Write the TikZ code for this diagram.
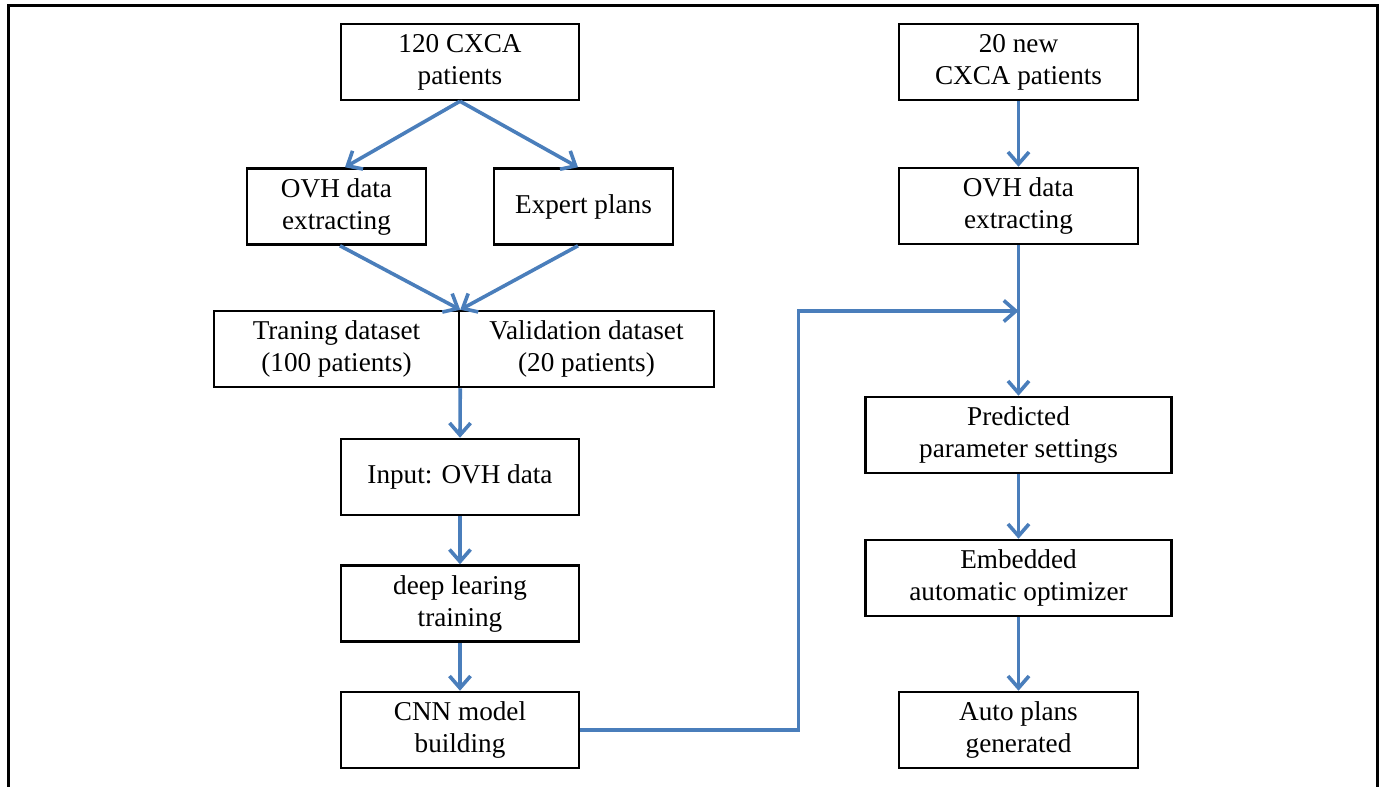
\documentclass[tikz,border=0pt]{standalone}
\usepackage{fontspec}
\setmainfont{Liberation Serif}
\usetikzlibrary{arrows.meta,calc}
\definecolor{arrblue}{HTML}{4A7EBB}
\begin{document}
\begin{tikzpicture}[x=0.5pt,y=-0.5pt,
  box/.style={draw=black,line width=1.25pt,align=center,inner sep=0pt,
    font=\fontsize{13.6pt}{16pt}\selectfont,minimum height=38pt},
  arr/.style={draw=arrblue,line width=1.8pt,-{Straight Barb[length=6pt,width=10.5pt,line width=1.8pt]}}]
\useasboundingbox (0,0) rectangle (1383,787);
\draw[line width=1.5pt] (8,787) -- (8,5) -- (1377,5) -- (1377,787);
% left column
\node[box,minimum width=119pt] (b1) at (460,62) {120 CXCA\\patients};
\node[box,minimum width=89.5pt] (ovhL) at (336.5,206.5) {OVH data\\extracting};
\node[box,minimum width=89.5pt] (exp) at (583.5,206.5) {Expert plans};
\node[box,minimum width=122.5pt] (tl) at (336.5,349) {Traning dataset\\(100 patients)};
\node[box,minimum width=127.5pt] (tr) at (586.5,349) {Validation dataset\\(20 patients)};
\node[box,minimum width=119pt] (inp) at (460,477) {Input: OVH data};
\node[box,minimum width=119pt] (deep) at (460,603.5) {deep learing\\training};
\node[box,minimum width=119pt] (cnn) at (460,730) {CNN model\\building};
% right column
\node[box,minimum width=119.5pt] (b2) at (1018.5,62) {20 new\\CXCA patients};
\node[box,minimum width=119.5pt] (ovhR) at (1018.5,206) {OVH data\\extracting};
\node[box,minimum width=153pt] (pred) at (1018.5,435) {Predicted\\parameter settings};
\node[box,minimum width=153pt] (emb) at (1018.5,578) {Embedded\\automatic optimizer};
\node[box,minimum width=119.5pt] (auto) at (1018.5,730) {Auto plans\\generated};
% connectors
\draw[arr] (b1.south) -- ([xshift=4.25pt]ovhL.north);
\draw[arr] (b1.south) -- ([xshift=-2.75pt]exp.north);
\draw[arr] ([xshift=1.75pt]ovhL.south) -- (tl.north east);
\draw[arr] ([xshift=-2.75pt]exp.south) -- (tl.north east);
\draw[arr] (tl.south east) -- (inp.north);
\draw[arr] (inp.south) -- (deep.north);
\draw[arr] (deep.south) -- (cnn.north);
\draw[arr] (b2.south) -- (ovhR.north);
\draw[arr] (ovhR.south) -- (pred.north);
\coordinate (bend) at (798.5,311);
\coordinate (meet) at (ovhR.south |- bend);
\draw[arr] (cnn.east) -| (bend) -- (meet);
\draw[arr] (pred.south) -- (emb.north);
\draw[arr] (emb.south) -- (auto.north);
\end{tikzpicture}
\end{document}
